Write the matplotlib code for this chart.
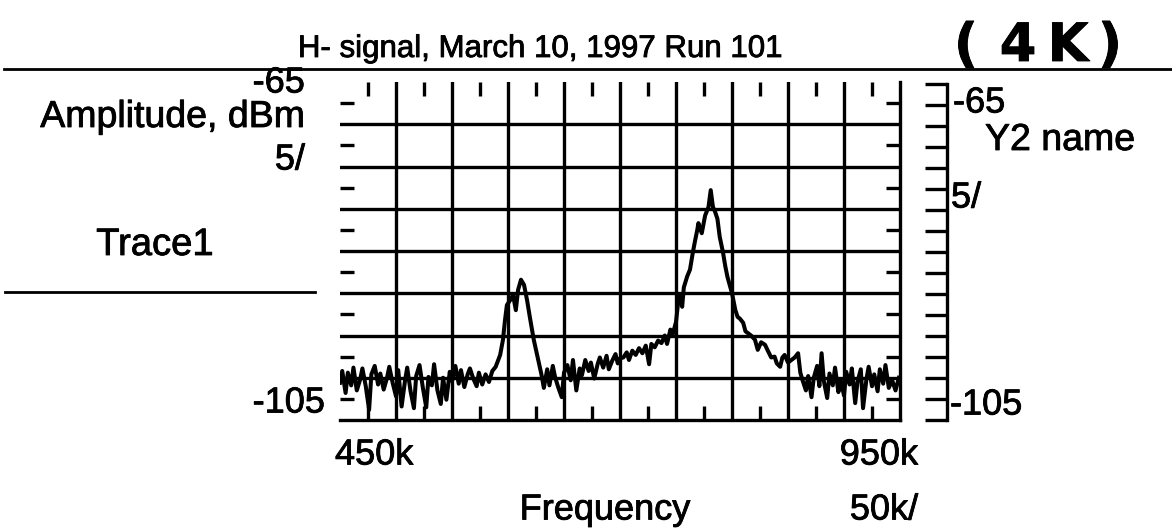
import matplotlib
matplotlib.use('Agg')
import matplotlib.pyplot as plt
import matplotlib.patheffects as pe
from matplotlib.lines import Line2D
import numpy as np

plt.rcParams['font.family'] = ['Liberation Sans', 'DejaVu Sans']

# spectrum trace: (frequency kHz, amplitude dBm)
trace1 = [
    (450, -100.6), (452, -99.2), (455, -101.8), (457, -99.4), (460, -100.9),
    (462, -98.8), (465, -101.5), (468, -100.2), (470, -98.9), (473, -101.0),
    (476, -103.8), (478, -99.6), (481, -98.6), (484, -100.8), (486, -99.5),
    (489, -101.4), (492, -100.0), (494, -98.7), (497, -100.6), (500, -102.2),
    (502, -99.1), (505, -103.4), (508, -100.4), (510, -98.8), (513, -101.6),
    (516, -103.6), (518, -99.8), (521, -98.5), (524, -101.2), (527, -103.5),
    (529, -99.9), (532, -100.9), (534, -98.4), (537, -101.5), (540, -103.1),
    (542, -100.0), (545, -102.6), (548, -99.3), (550, -100.4), (553, -98.6),
    (556, -100.7), (558, -99.1), (561, -101.1), (564, -99.6), (566, -98.9),
    (569, -100.1), (572, -101.0), (574, -99.4), (577, -100.8), (580, -99.6),
    (583, -100.5), (586, -99.2), (589, -98.7),
    # first line
    (591, -98.0), (593, -97.3), (595.5, -95.5), (597.3, -93.2), (599, -91.4),
    (602, -90.8), (604.5, -90.2), (607, -92.0), (609, -89.6), (611.6, -88.4),
    (614.3, -89.0), (617, -90.8), (619.6, -92.9), (623, -95.5), (627, -97.9),
    (630, -99.7), (632, -101.2),
    (635, -99.0), (637, -100.9), (640, -98.6), (642, -99.9), (645, -101.2),
    (648, -102.3), (650, -99.4), (653, -98.5), (656, -100.3), (658, -97.9),
    (661, -101.5), (664, -98.9), (666, -99.7), (669, -97.9), (672, -99.2),
    (674, -98.2), (677, -100.1), (680, -98.4), (682, -97.6), (685, -98.8),
    (688, -97.4), (690, -99.0), (693, -98.0), (696, -97.2), (698, -98.3),
    (700, -97.7), (703, -97.6), (706, -97.0), (708, -97.9), (711, -96.8),
    (714, -97.3), (717, -96.5), (720, -97.1), (723, -96.2), (726, -98.4),
    (728, -96.0), (731, -96.4), (734, -95.6), (737, -95.9), (740, -95.0),
    (742, -96.0), (745, -94.3), (747, -94.9), (750, -93.4), (752, -91.0),
    # second line
    (754, -90.2), (755.5, -91.6), (757, -89.3), (760, -88.0), (762.5, -87.2),
    (765, -85.2), (767, -83.8), (769, -82.5), (770, -81.7), (773, -82.9),
    (776, -80.8), (779, -79.8), (781, -77.8), (783, -79.8), (785, -80.4),
    (787, -81.2), (789, -83.3), (792, -85.2), (794, -86.8), (796, -88.1),
    (800, -90.0), (803, -92.0), (805, -92.8), (807, -93.0), (810, -93.5),
    (812, -94.5), (814, -94.7), (817, -95.0), (820.5, -95.5), (823, -96.7),
    (826, -95.8), (829.5, -96.1), (832, -96.8), (835, -97.6), (838, -97.5),
    (840, -98.3), (843, -98.7), (845, -97.6), (847, -97.3), (850, -98.2),
    (853, -97.9), (856, -97.6), (859, -97.1), (861, -99.4), (863, -100.3),
    (866, -101.5), (868, -99.8), (871, -102.3), (873, -100.0), (876, -98.6),
    (878, -101.0), (880, -97.1), (882, -100.4), (885, -102.4), (887, -99.5),
    (890, -100.9), (892, -98.8), (895, -101.7), (897, -100.2), (900, -102.1),
    (902, -99.3), (905, -100.8), (907, -98.9), (910, -103.0), (912, -100.5),
    (915, -99.0), (917, -103.6), (920, -100.2), (922, -98.7), (925, -101.0),
    (927, -99.6), (930, -101.6), (932, -99.0), (935, -100.7), (937, -98.5),
    (940, -101.2), (943, -100.3), (946, -101.5), (949, -100.0),
]

f_start, f_stop, f_div = 450, 950, 50
ref_level, bottom_level, db_div = -65, -105, 5

W, H = 1172, 531


def fx(x):
    return x / W


def fy(y):
    return 1 - y / H


fig = plt.figure(figsize=(W / 100, H / 100), dpi=100)

# slightly heavier strokes for the lettering
ink = [pe.withStroke(linewidth=0.6, foreground='black')]


def label(x, y, s, size=26, **kw):
    kw.setdefault('va', 'center')
    t = fig.text(fx(x), fy(y), s, fontsize=size, **kw)
    t.set_path_effects(ink)
    return t


lw = 2.4
ax = fig.add_axes([fx(340), fy(420), fx(900) - fx(340), fy(82) - fy(420)])
freq = [p[0] for p in trace1]
amp = [p[1] for p in trace1]
ax.plot(freq, amp, color='black', lw=2.9, solid_joinstyle='round')
ax.set_xlim(f_start, f_stop)
ax.set_ylim(bottom_level, ref_level)

ax.set_xticks(np.arange(f_start + f_div, f_stop, f_div))
ax.set_yticks(np.arange(bottom_level + db_div, ref_level, db_div))
ax.set_xticks(np.arange(f_start + f_div / 2, f_stop, f_div), minor=True)
ax.set_yticks(np.arange(bottom_level + db_div / 2, ref_level, db_div), minor=True)
ax.grid(True, which='major', color='black', lw=lw)
ax.tick_params(which='major', length=0, labelbottom=False, labelleft=False)
ax.tick_params(which='minor', direction='in', length=10, width=lw,
               top=True, bottom=True, left=True, right=True)
for side in ['left', 'top']:
    ax.spines[side].set_visible(False)
for side in ['bottom', 'right']:
    ax.spines[side].set_linewidth(lw)

# second amplitude scale on the right
ax2 = fig.add_axes([fx(922), fy(420), fx(947) - fx(922), fy(84) - fy(420)])
ax2.set_ylim(bottom_level, ref_level)
ax2.set_xticks([])
ax2.set_yticks(np.arange(bottom_level, ref_level + 0.1, db_div / 2))
ax2.tick_params(axis='y', direction='in', length=16, width=lw,
                left=False, right=True, labelleft=False, labelright=False)
for side in ['left', 'top', 'bottom']:
    ax2.spines[side].set_visible(False)
ax2.spines['right'].set_linewidth(lw)
ax2.patch.set_visible(False)

label(540, 57, 'H- signal, March 10, 1997 Run 101', size=22.5, ha='center',
      va='baseline')
fig.add_artist(Line2D([fx(4), fx(1172)], [fy(69), fy(69)], color='black', lw=2.0,
                      transform=fig.transFigure))
# handwritten note
for x, ch in [(966, '('), (1018, '4'), (1068, 'K'), (1110, ')')]:
    label(x, 46, ch, size=38, ha='center', fontweight='bold',
          family='DejaVu Sans')

label(305, 83, '-65', ha='right')
label(305, 117, 'Amplitude, dBm', size=27, ha='right')
label(305, 160, '5/', ha='right')
label(155, 245, 'Trace1', size=27.5, ha='center')
fig.add_artist(Line2D([fx(5), fx(315)], [fy(292), fy(292)], color='black', lw=2.0,
                      transform=fig.transFigure))
label(325, 403, '-105', ha='right')

label(335, 455, '450k', ha='left')
label(918, 455, '950k', ha='right')
label(605, 510, 'Frequency', ha='center')
label(918, 510, '50k/', ha='right')

label(953, 103, '-65', ha='left')
label(985, 140, 'Y2 name', size=27, ha='left')
label(951, 198, '5/', ha='left')
label(950, 405, '-105', ha='left')

fig.savefig('out.png', dpi=100)
